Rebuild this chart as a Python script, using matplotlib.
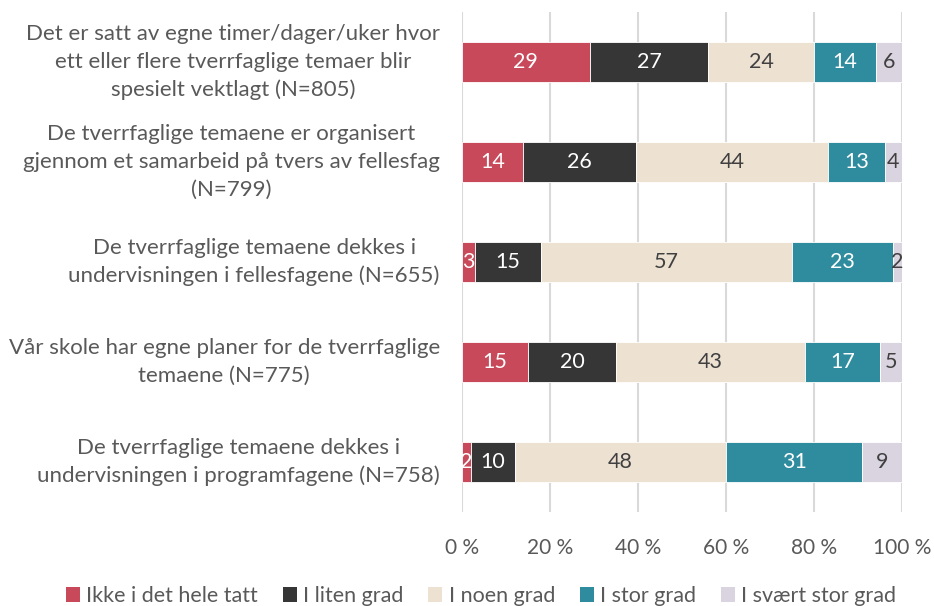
import matplotlib
matplotlib.use("Agg")
import matplotlib.pyplot as plt
import numpy as np
from matplotlib.patches import Patch

plt.rcParams['font.family'] = ['Lato', 'DejaVu Sans']

categories = [
    "Det er satt av egne timer/dager/uker hvor\nett eller flere tverrfaglige temaer blir\nspesielt vektlagt (N=805)",
    "De tverrfaglige temaene er organisert\ngjennom et samarbeid på tvers av fellesfag\n(N=799)",
    "De tverrfaglige temaene dekkes i\nundervisningen i fellesfagene (N=655)",
    "Vår skole har egne planer for de tverrfaglige\ntemaene (N=775)",
    "De tverrfaglige temaene dekkes i\nundervisningen i programfagene (N=758)",
]
series_names = ["Ikke i det hele tatt", "I liten grad", "I noen grad", "I stor grad", "I svært stor grad"]
ikke = [29, 14, 3, 15, 2]
liten = [27, 26, 15, 20, 10]
noen = [24, 44, 57, 43, 48]
stor = [14, 13, 23, 17, 31]
svaert = [6, 4, 2, 5, 9]
x_ticks = [0, 20, 40, 60, 80, 100]
x_tick_labels = ["0 %", "20 %", "40 %", "60 %", "80 %", "100 %"]

colors = ["#C8495A", "#363636", "#EDE1D2", "#2E8C9E", "#DAD3E0"]
text_colors = ["white", "white", "#404040", "white", "#404040"]

values = np.array([ikke, liten, noen, stor, svaert], dtype=float)
# 100 % stacked: scale each row to its total
shares = values / values.sum(axis=0) * 100

fig = plt.figure(figsize=(9.34, 6.06), dpi=100)
ax = fig.add_axes([462 / 934, 1 - 512 / 606, 440 / 934, 500 / 606])

y = np.arange(len(categories))
left = np.zeros(len(categories))
for i, name in enumerate(series_names):
    bars = ax.barh(y, shares[i], left=left, height=0.4, color=colors[i],
                   edgecolor="white", linewidth=0.6, label=name, zorder=3)
    for j, b in enumerate(bars):
        cx = left[j] + shares[i][j] / 2
        ax.text(cx, y[j], f"{int(values[i][j])}", ha="center", va="center",
                color=text_colors[i], fontsize=15.5, zorder=4)
    left += shares[i]

ax.set_xlim(0, 100)
ax.set_ylim(len(categories) - 0.5, -0.5)
ax.set_xticks(x_ticks)
ax.set_xticklabels(x_tick_labels)
ax.set_yticks(y)
ax.set_yticklabels([])
ax.grid(axis="x", color="#D9D9D9", linewidth=1.5, zorder=0)
ax.tick_params(axis="both", length=0, labelsize=15, labelcolor="#595959", pad=19)
for s in ax.spines.values():
    s.set_visible(False)

for j, cat in enumerate(categories):
    ax.annotate(cat, xy=(0, y[j]), xycoords=("axes fraction", "data"),
                xytext=(-16, 0), textcoords="offset points",
                ha="right", va="center", multialignment="center",
                fontsize=16, color="#595959", linespacing=1.5)

handles = [Patch(facecolor=c, edgecolor="none") for c in colors]
fig.legend(handles, series_names, loc="center", bbox_to_anchor=(481 / 934, 1 - 596 / 606),
           ncol=5, frameon=False, fontsize=15.5, labelcolor="#595959",
           handlelength=0.65, handleheight=0.65, handletextpad=0.3, columnspacing=1.15)

fig.savefig("out.png", dpi=100)
